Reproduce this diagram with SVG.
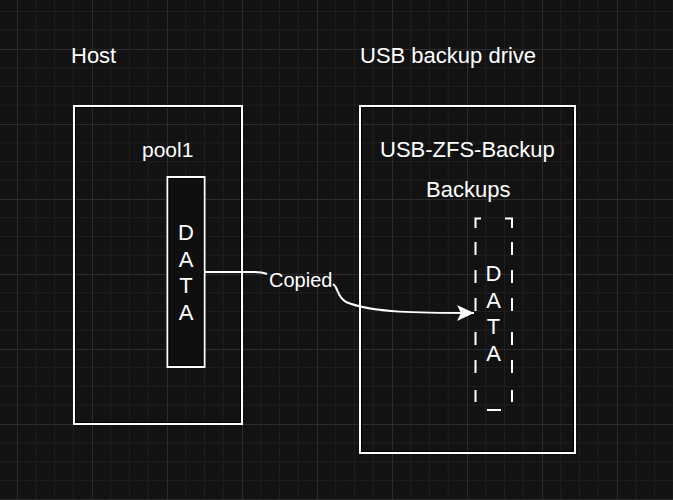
<svg xmlns="http://www.w3.org/2000/svg" width="673" height="500" viewBox="0 0 673 500">
<defs>
<pattern id="grid" patternUnits="userSpaceOnUse" x="17" y="49" width="75" height="75">
<path d="M18.75,0V75M37.5,0V75M56.25,0V75M0,18.75H75M0,37.5H75M0,56.25H75" stroke="#1e1e1e" stroke-width="1" fill="none"/>
<path d="M0.5,0V75M0,0.5H75" stroke="#2c2c2c" stroke-width="1" fill="none"/>
</pattern>
<marker id="ah" markerUnits="userSpaceOnUse" markerWidth="20" markerHeight="20" refX="17" refY="8" orient="auto">
<path d="M0,0 L17,8 L0,16 L4,8 Z" fill="#ffffff"/>
</marker>
<style>
.t{font-family:"Liberation Sans",Arial,Helvetica,sans-serif;fill:#ffffff;}
.box{fill:none;stroke:#ffffff;stroke-width:2;}
.inner{fill:none;stroke:#000000;stroke-width:1;}
.conn{fill:none;stroke:#ffffff;stroke-width:2;}
</style>
</defs>
<rect width="673" height="500" fill="#121212"/>
<rect width="673" height="500" fill="url(#grid)"/>
<text class="t" x="71" y="63" font-size="22">Host</text>
<text class="t" x="360" y="63" font-size="22">USB backup drive</text>
<g id="host">
<rect class="box" x="74" y="106" width="168" height="318"/>
<rect class="inner" x="75.5" y="107.5" width="165" height="315"/>
<text class="t" x="142" y="157" font-size="21">pool1</text>
</g>
<g id="data-source">
<rect x="167.5" y="177" width="37" height="190" fill="#0f0f0f" stroke="#ffffff" stroke-width="2"/>
<rect class="inner" x="169" y="178.5" width="34" height="187"/>
<g class="t" font-size="22" text-anchor="middle">
<text x="186" y="240">D</text>
<text x="186" y="267">A</text>
<text x="186" y="293">T</text>
<text x="186" y="320">A</text>
</g>
</g>
<g id="usb">
<rect class="box" x="360" y="106" width="215" height="347"/>
<rect class="inner" x="361.5" y="107.5" width="212" height="344"/>
<text class="t" x="380" y="157" font-size="22">USB-ZFS-Backup</text>
<text class="t" x="426" y="197" font-size="22">Backups</text>
</g>
<g id="data-backup">
<path d="M481,218.5H475.5V228M505,218.5H512V228M475.5,242V255M475.5,270V283M475.5,298V311M475.5,332V345M475.5,360V373M475.5,390V402M512,242V255M512,270V283M512,298V311M512,332V345M512,360V373M512,390V402M487,410H501" fill="none" stroke="#ffffff" stroke-width="2"/>
<g class="t" font-size="22" text-anchor="middle">
<text x="493.5" y="281">D</text>
<text x="493.5" y="308">A</text>
<text x="493.5" y="334">T</text>
<text x="493.5" y="361">A</text>
</g>
</g>
<g id="connectors">
<path class="conn" d="M205,272 L252,272 Q262,272 267,274"/>
<path class="conn" d="M333,284 C339,288 336,296 346,302 C372,313 420,313 474,313" marker-end="url(#ah)"/>
<text class="t" x="269" y="287" font-size="20">Copied</text>
</g>
</svg>
